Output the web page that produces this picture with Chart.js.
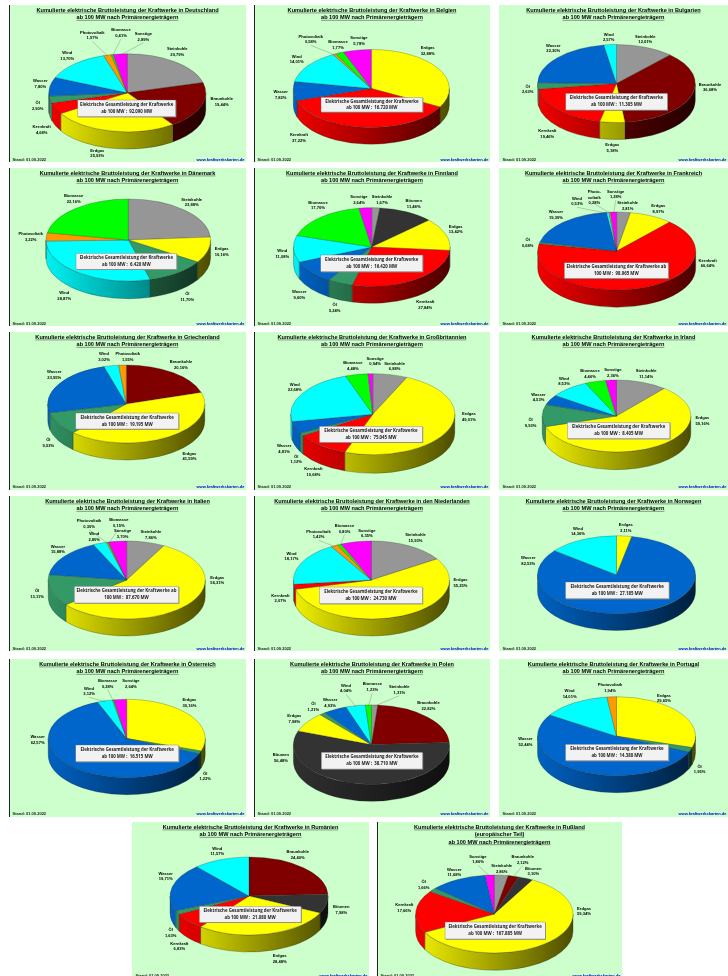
<!DOCTYPE html>
<html lang="de">
<head>
<meta charset="utf-8">
<title>Kumulierte elektrische Bruttoleistung</title>
<script src="https://cdn.jsdelivr.net/npm/chart.js@4"></script>
<style>
  html, body { margin: 0; padding: 0; background: #fff; width: 728px; height: 976px; overflow: hidden; }
  .panel { position: absolute; background: #ccffcc; overflow: hidden; }
  .panel.line { border-left: 1px solid #222; box-sizing: border-box; }
  .panel canvas { position: absolute; display: block; filter: blur(0.3px); }
</style>
</head>
<body>
<script>
// Values, in slice order (clockwise from 12 o'clock)
const catDE = ["Steinkohle", "Braunkohle", "Erdgas", "Kernkraft", "Öl", "Wasser", "Wind", "Photovoltaik", "Biomasse", "Sonstige"];
const valDE = [20.79, 19.44, 25.93, 4.68, 2.90, 7.80, 13.70, 1.57, 0.41, 2.89];
const catBE = ["Erdgas", "Kernkraft", "Wasser", "Wind", "Photovoltaik", "Biomasse", "Sonstige"];
const valBE = [32.88, 37.22, 7.82, 14.01, 0.58, 1.77, 5.78];
const catBG = ["Steinkohle", "Braunkohle", "Erdgas", "Kernkraft", "Öl", "Wasser", "Wind"];
const valBG = [12.01, 36.68, 5.18, 19.46, 2.63, 22.30, 2.57];
const catDK = ["Steinkohle", "Erdgas", "Öl", "Wind", "Photovoltaik", "Biomasse"];
const valDK = [23.88, 10.16, 11.70, 28.87, 3.22, 22.16];
const catFI = ["Steinkohle", "Bitumen", "Erdgas", "Kernkraft", "Öl", "Wasser", "Wind", "Biomasse", "Sonstige"];
const valFI = [1.67, 11.48, 13.42, 27.84, 5.24, 9.60, 11.08, 17.76, 2.64];
const catFR = ["Steinkohle", "Erdgas", "Kernkraft", "Öl", "Wasser", "Wind", "Photovoltaik", "Sonstige"];
const valFR = [2.81, 8.97, 66.64, 0.68, 19.39, 0.53, 0.28, 1.28];
const catGR = ["Braunkohle", "Erdgas", "Öl", "Wasser", "Wind", "Photovoltaik"];
const valGR = [20.16, 41.59, 9.53, 23.95, 3.02, 1.55];
const catUK = ["Steinkohle", "Erdgas", "Kernkraft", "Öl", "Wasser", "Wind", "Biomasse", "Sonstige"];
const valUK = [6.88, 49.01, 10.68, 1.12, 4.81, 22.68, 4.48, 0.94];
const catIE = ["Steinkohle", "Erdgas", "Öl", "Wasser", "Wind", "Biomasse", "Sonstige"];
const valIE = [11.14, 59.16, 9.93, 4.53, 8.53, 4.46, 2.36];
const catIT = ["Steinkohle", "Erdgas", "Öl", "Wasser", "Wind", "Photovoltaik", "Biomasse", "Sonstige"];
const valIT = [7.86, 56.31, 13.11, 15.88, 2.80, 0.30, 0.15, 3.70];
const catNL = ["Steinkohle", "Erdgas", "Kernkraft", "Wind", "Photovoltaik", "Biomasse", "Sonstige"];
const valNL = [15.93, 55.25, 2.07, 18.17, 1.42, 0.80, 6.35];
const catNO = ["Erdgas", "Wasser", "Wind"];
const valNO = [3.11, 82.53, 14.36];
const catAT = ["Erdgas", "Öl", "Wasser", "Wind", "Biomasse", "Sonstige"];
const valAT = [30.16, 1.23, 62.57, 3.12, 0.28, 2.64];
const catPL = ["Steinkohle", "Braunkohle", "Bitumen", "Erdgas", "Öl", "Wasser", "Wind", "Biomasse"];
const valPL = [1.31, 22.82, 56.48, 7.98, 1.21, 4.93, 4.04, 1.23];
const catPT = ["Erdgas", "Öl", "Wasser", "Wind", "Photovoltaik"];
const valPT = [29.65, 1.95, 52.44, 14.01, 1.94];
const catRO = ["Braunkohle", "Bitumen", "Erdgas", "Kernkraft", "Öl", "Wasser", "Wind"];
const valRO = [24.40, 7.98, 28.48, 6.83, 1.63, 19.71, 11.57];
const catRU = ["Steinkohle", "Braunkohle", "Bitumen", "Erdgas", "Kernkraft", "Öl", "Wasser", "Sonstige"];
const valRU = [2.86, 2.12, 3.10, 59.34, 17.66, 1.66, 11.68, 1.86];

// Slice colours by energy source
const colors = {
    "Steinkohle": "#969696", "Braunkohle": "#800000", "Bitumen": "#333333",
    "Erdgas": "#ffff00", "Kernkraft": "#ff0000", "Öl": "#339966",
    "Wasser": "#0066cc", "Wind": "#00ffff", "Photovoltaik": "#ff9900",
    "Biomasse": "#00ff00", "Sonstige": "#ff00ff"
};

const SUB = "ab 100 MW nach Primärenergieträgern";
const HEAD = "Kumulierte elektrische Bruttoleistung der Kraftwerke in ";
const TITLE_LINE = 7.4;

// Page layout: panel rect, pie centre and radii, wall depth, info box, label centres, leader lines
const panels = [
    { land: ["Deutschland"], cats: catDE, vals: valDE, info: ["Elektrische Gesamtleistung der Kraftwerke", "ab 100 MW :  92.090 MW"],
      rect: [9, 5, 237, 157], foot: 155.3, line: true, pie: [127.3, 92.8, 78.5, 39, 17.3], box: [77.7, 100, 175.7, 116.7], lead: [7, 8, 9],
      pos: [[177.3,51.7],[221.7,101.7],[97.3,153.3],[41.7,129.7],[37.7,105.7],[40.3,83.7],[67.3,55.7],[92.3,35.5],[121,32.7],[143.3,36.7]] },
    { land: ["Belgien"], cats: catBE, vals: valBE, info: ["Elektrische Gesamtleistung der Kraftwerke", "ab 100 MW :  16.720 MW"],
      rect: [254, 5, 236, 157], foot: 155.3, line: true, pie: [371.3, 88.5, 78, 39, 16.7], box: [321, 97.3, 422.7, 112], lead: [4, 5],
      pos: [[427.7,50.7],[299,138],[280.7,94.7],[296.7,59.3],[310.7,39.3],[338,45],[359,40.7]] },
    { land: ["Bulgarien"], cats: catBG, vals: valBG, info: ["Elektrische Gesamtleistung der Kraftwerke", "ab 100 MW :  11.305 MW"],
      rect: [499, 5, 229, 157], foot: 155.3, pie: [616.5, 83.5, 78.8, 39, 17], box: [565.7, 93.3, 667.3, 110], lead: [],
      pos: [[645.3,39.3],[710,87.3],[612.3,147.7],[547.3,134],[527.7,89.3],[553.3,48.3],[608.7,37.3]] },
    { land: ["Dänemark"], cats: catDK, vals: valDK, info: ["Elektrische Gesamtleistung der Kraftwerke", "ab 100 MW :  6.420 MW"],
      rect: [9, 168, 237, 158], foot: 156, line: true, pie: [128.3, 240, 82.3, 41, 17.7], box: [76, 253.3, 176.7, 269.3], lead: [],
      pos: [[191.7,202.3],[221.7,252],[187.3,296.7],[64.3,296],[30.7,237],[73.7,199]] },
    { land: ["Finnland"], cats: catFI, vals: valFI, info: ["Elektrische Gesamtleistung der Kraftwerke", "ab 100 MW :  16.420 MW"],
      rect: [254, 168, 236, 158], foot: 156, line: true, pie: [371.7, 247, 78.3, 39.3, 17], box: [320.7, 255, 422.7, 271.7], lead: [],
      pos: [[382,200],[413.7,203.7],[455.7,229.3],[425.3,305],[334.7,308],[299.3,295],[282.3,254],[318,205.3],[359,200]] },
    { land: ["Frankreich"], cats: catFR, vals: valFR, info: ["Elektrische Gesamtleistung der Kraftwerke ab", "100 MW :  98.965 MW"],
      rect: [499, 168, 229, 158], foot: 156, pie: [616.7, 251, 79, 39, 17.3], box: [564.3, 262.7, 668.3, 278.3], lead: [5, 6, 7],
      pos: [[627.7,205.7],[658.3,209],[707.7,263.3],[527.7,242.7],[556,214.7],[577,201.3],[594.3,197.7],[615.7,194.3]] },
    { land: ["Griechenland"], cats: catGR, vals: valGR, info: ["Elektrische Gesamtleistung der Kraftwerke", "ab 100 MW :  19.195 MW"],
      rect: [9, 332, 237, 158], foot: 155, line: true, pie: [126.3, 404, 78.5, 39, 17], box: [75.7, 413, 178.7, 429], lead: [],
      pos: [[181,364.7],[189.4,456.3],[48.3,443],[54.3,374.7],[104,356.7],[127.7,356.7]] },
    { land: ["Großbritannien"], cats: catUK, vals: valUK, info: ["Elektrische Gesamtleistung der Kraftwerke", "ab 100 MW :  75.045 MW"],
      rect: [254, 332, 236, 158], foot: 155, line: true, pie: [372.8, 414.2, 82, 40.5, 18.6], box: [319.4, 426.3, 422.5, 442.3], lead: [],
      pos: [[394.6,366.3],[468.9,416.7],[313.4,471.7],[296.2,459.3],[284.1,449],[294.8,387.3],[352.8,366],[375.1,361.3]] },
    { land: ["Irland"], cats: catIE, vals: valIE, info: ["Elektrische Gesamtleistung der Kraftwerke", "ab 100 MW :  8.405 MW"],
      rect: [499, 332, 229, 158], foot: 155, pie: [616.5, 416, 74.3, 36, 17.7], box: [567.3, 422.3, 669.9, 438.7], lead: [],
      pos: [[646.2,374],[702.4,420.7],[530.6,423],[538.5,397.3],[564,381.3],[590,373.7],[612.8,373]] },
    { land: ["Italien"], cats: catIT, vals: valIT, info: ["Elektrische Gesamtleistung der Kraftwerke ab", "100 MW :  87.670 MW"],
      rect: [9, 496, 237, 155], foot: 153, line: true, pie: [126.7, 580, 78.5, 39, 17], box: [74.3, 586.3, 178.7, 603], lead: [5, 6],
      pos: [[150.9,534.7],[217.3,580.3],[37.1,593.7],[58,549.3],[94.2,537],[89.1,523.7],[118.8,522.7],[122.6,533.7]] },
    { land: ["den Niederlanden"], cats: catNL, vals: valNL, info: ["Elektrische Gesamtleistung der Kraftwerke", "ab 100 MW :  24.730 MW"],
      rect: [254, 496, 236, 155], foot: 153, line: true, pie: [371.4, 580, 78, 39, 17], box: [319.4, 587, 422.5, 603.7], lead: [4, 5],
      pos: [[415.5,537.7],[460.5,582.7],[280.4,598.3],[291.5,556.3],[318.5,534.3],[344.5,528.7],[366.8,533.3]] },
    { land: ["Norwegen"], cats: catNO, vals: valNO, info: ["Elektrische Gesamtleistung der Kraftwerke", "ab 100 MW :  27.185 MW"],
      rect: [499, 496, 229, 155], foot: 153, pie: [616.5, 574.8, 79, 39, 16.7], box: [565.5, 582, 669, 598.7], lead: [],
      pos: [[625.8,528],[528.3,561],[578,531.3]] },
    { land: ["Österreich"], cats: catAT, vals: valAT, info: ["Elektrische Gesamtleistung der Kraftwerke", "ab 100 MW :  16.515 MW"],
      rect: [9, 659, 237, 158], foot: 155, line: true, pie: [126.7, 738.5, 78.5, 39.2, 17], box: [75.7, 745, 178.7, 761.7], lead: [3, 4],
      pos: [[189.4,702.7],[205.2,776.3],[37.6,739.7],[89.1,691.3],[107.7,683.7],[130.9,684]] },
    { land: ["Polen"], cats: catPL, vals: valPL, info: ["Elektrische Gesamtleistung der Kraftwerke", "ab 100 MW :  38.710 MW"],
      rect: [254, 659, 236, 158], foot: 155, line: true, pie: [371.4, 744.6, 78, 39.7, 17], box: [321.3, 752.3, 422.5, 769], lead: [0, 6, 7],
      pos: [[399.3,689.7],[428.5,706],[280.9,757.7],[294.3,719],[313.4,706.7],[330.1,702.7],[345.9,688.3],[372.3,687]] },
    { land: ["Portugal"], cats: catPT, vals: valPT, info: ["Elektrische Gesamtleistung der Kraftwerke", "ab 100 MW :  14.380 MW"],
      rect: [499, 659, 229, 158], foot: 155, pie: [616.5, 736.2, 79, 39.5, 17], box: [565.5, 744.3, 668.5, 760.7], lead: [],
      pos: [[663.9,698.3],[699.6,769.3],[525.5,741.7],[569.6,693.7],[610,687.7]] },
    { land: ["Rumänien"], cats: catRO, vals: valRO, info: ["Elektrische Gesamtleistung der Kraftwerke", "ab 100 MW :  21.080 MW"],
      rect: [132, 822, 237, 154], foot: 153.5, pie: [249, 896, 79, 39, 17], box: [199.3, 906.3, 301, 922.3], lead: [],
      pos: [[297.7,854.7],[341.3,910],[279.7,959],[179.3,946.3],[170.7,933],[165.7,876.3],[217.3,851.3]] },
    { land: ["Rußland", "(europäischer Teil)"], cats: catRU, vals: valRU, info: ["Elektrische Gesamtleistung der Kraftwerke", "ab 100 MW :  167.885 MW"],
      rect: [377, 822, 245, 154], foot: 153.5, line: true, pie: [494.3, 914, 78.7, 39, 17.3], box: [445, 922, 545.3, 939], lead: [1, 7],
      pos: [[501.7,868.7],[522.7,859.7],[533.3,871.3],[584,911.3],[404.3,908],[423.7,884.7],[454.3,872.3],[478,859.3]] }
];

// Darkens a hex colour, used for the shaded side wall
function shade(hex, f) {
    const n = parseInt(hex.slice(1), 16);
    const c = [n >> 16, (n >> 8) & 255, n & 255].map(v => Math.round(v * f));
    return `rgb(${c[0]},${c[1]},${c[2]})`;
}

function percent(v) {
    return v.toFixed(2).replace(".", ",") + "%";
}

// Squashes the library's arcs into a tilted disc and adds wall, labels and info box
function pie3dPlugin(p) {
    const [cx0, cy0, rx, ry, depth] = p.pie;
    const cx = cx0 - p.rect[0];
    const cy = cy0 - p.rect[1];
    return {
        id: "pie3d",
        beforeDatasetsDraw(chart) {
            const ctx = chart.ctx;
            const arcs = chart.getDatasetMeta(0).data;
            arcs.forEach((arc, i) => {
                const a = Math.max(arc.startAngle, 0);
                const b = Math.min(arc.endAngle, Math.PI);
                if (a >= b) return;
                const base = colors[p.cats[i]];
                const grad = ctx.createLinearGradient(cx - rx, 0, cx + rx, 0);
                grad.addColorStop(0, shade(base, 0.95));
                grad.addColorStop(1, shade(base, 0.3));
                ctx.beginPath();
                ctx.ellipse(cx, cy, rx, ry, 0, a, b);
                ctx.ellipse(cx, cy + depth, rx, ry, 0, b, a, true);
                ctx.closePath();
                ctx.fillStyle = grad;
                ctx.fill();
                ctx.strokeStyle = "#222";
                ctx.lineWidth = 0.3;
                ctx.stroke();
            });
            const first = arcs[0];
            ctx.save();
            ctx.translate(cx, cy);
            ctx.scale(1, ry / rx);
            ctx.translate(-first.x, -first.y);
        },
        afterDatasetsDraw(chart) {
            const ctx = chart.ctx;
            ctx.restore();
            const arcs = chart.getDatasetMeta(0).data;

            // labels, some with a thin leader line to their small slice
            ctx.textAlign = "center";
            ctx.textBaseline = "middle";
            arcs.forEach((arc, i) => {
                const lx = p.pos[i][0] - p.rect[0];
                const ly = p.pos[i][1] - p.rect[1];
                const cat = p.cats[i];
                if (p.lead.includes(i)) {
                    const mid = (arc.startAngle + arc.endAngle) / 2;
                    ctx.beginPath();
                    ctx.moveTo(lx, ly + 6);
                    ctx.lineTo(cx + Math.cos(mid) * rx * 0.97, cy + Math.sin(mid) * ry * 0.97);
                    ctx.strokeStyle = "#555";
                    ctx.lineWidth = 0.3;
                    ctx.stroke();
                }
                let lines = [cat, percent(p.vals[i])];
                if (cat === "Photovoltaik" && p.land[0] === "Frankreich") {
                    lines = ["Photo-", "voltaik", percent(p.vals[i])];
                }
                ctx.font = "bold 4.1px 'Liberation Sans'";
                ctx.fillStyle = "#000";
                lines.forEach((t, k) => {
                    ctx.fillText(t, lx, ly + (k - (lines.length - 1) / 2) * 5.6);
                });
            });

            // info box
            const bx = p.box[0] - p.rect[0];
            const by = p.box[1] - p.rect[1];
            const bw = p.box[2] - p.box[0];
            const bh = p.box[3] - p.box[1];
            ctx.fillStyle = "#888";
            ctx.fillRect(bx + 0.7, by + 0.7, bw, bh);
            ctx.fillStyle = "#f2f2f2";
            ctx.fillRect(bx, by, bw, bh);
            ctx.strokeStyle = "#666";
            ctx.lineWidth = 0.35;
            ctx.strokeRect(bx, by, bw, bh);
            ctx.font = "bold 4.35px 'Open Sans'";
            ctx.fillStyle = "#222";
            ctx.fillText(p.info[0], bx + bw / 2, by + bh * 0.29);
            ctx.fillText(p.info[1], bx + bw / 2, by + bh * 0.71);

            // underlines of the title lines
            const tb = chart.titleBlock;
            const title = chart.options.plugins.title;
            ctx.font = `bold ${title.font.size}px 'Liberation Sans'`;
            ctx.strokeStyle = "#000";
            ctx.lineWidth = 0.4;
            title.text.forEach((t, k) => {
                const w = ctx.measureText(t).width;
                const y = tb.top + title.padding.top + TITLE_LINE * (k + 1) - 1;
                ctx.beginPath();
                ctx.moveTo(chart.width / 2 - w / 2, y);
                ctx.lineTo(chart.width / 2 + w / 2, y);
                ctx.stroke();
            });

            // footer
            ctx.font = "bold 4px 'Liberation Sans'";
            ctx.textAlign = "left";
            ctx.fillStyle = "#222";
            ctx.fillText("Stand: 01.09.2022", 3.5, p.foot);
            ctx.textAlign = "right";
            ctx.fillStyle = "#0000cc";
            ctx.fillText("www.kraftwerkskarten.de", chart.width - 1.5, p.foot);
        }
    };
}

panels.forEach(p => {
    const div = document.createElement("div");
    div.className = p.line ? "panel line" : "panel";
    div.style.left = p.rect[0] + "px";
    div.style.top = p.rect[1] + "px";
    div.style.width = p.rect[2] + "px";
    div.style.height = p.rect[3] + "px";
    const canvas = document.createElement("canvas");
    canvas.width = p.rect[2];
    canvas.height = p.rect[3];
    canvas.style.left = p.line ? "-1px" : "0";
    div.appendChild(canvas);
    document.body.appendChild(div);

    const titleLines = [HEAD + p.land[0]].concat(p.land.slice(1), [SUB]);
    new Chart(canvas.getContext("2d"), {
        type: "pie",
        data: {
            labels: p.cats,
            datasets: [{
                data: p.vals,
                backgroundColor: p.cats.map(c => colors[c]),
                borderColor: "#222",
                borderWidth: 0.35,
                radius: p.pie[2],
                clip: false
            }]
        },
        options: {
            responsive: false,
            animation: false,
            layout: { padding: 0 },
            plugins: {
                legend: { display: false },
                tooltip: { enabled: false },
                title: {
                    display: true,
                    text: titleLines,
                    color: "#000",
                    font: { family: "'Liberation Sans'", size: 5.6, weight: "bold", lineHeight: TITLE_LINE / 5.6 },
                    padding: { top: 1.5, bottom: 0 }
                }
            }
        },
        plugins: [pie3dPlugin(p)]
    });
});
</script>
</body>
</html>
